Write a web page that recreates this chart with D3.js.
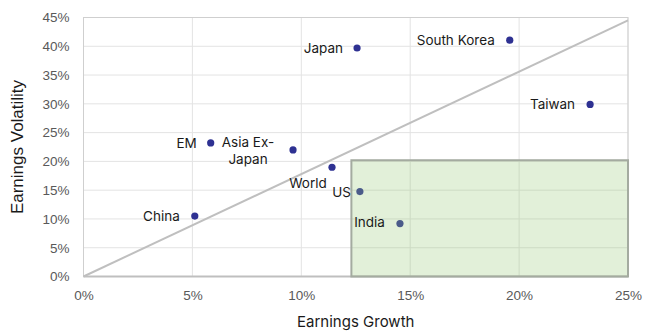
<!DOCTYPE html>
<html>
<head>
<meta charset="utf-8">
<script src="https://cdn.jsdelivr.net/npm/d3@7/dist/d3.min.js"></script>
<style>
  html, body { margin: 0; padding: 0; background: #fff; }
  svg { display: block; }
</style>
</head>
<body>
<svg id="chart" width="647" height="336"></svg>
<script>
// Markets plotted by earnings growth (x) and earnings volatility (y)
const markets = ["Japan", "South Korea", "Taiwan", "EM", "Asia Ex-Japan", "World", "US", "India", "China"];
const growth = [0.1256, 0.1957, 0.2326, 0.0584, 0.0962, 0.1141, 0.1269, 0.1453, 0.0511];
const volatility = [0.397, 0.4106, 0.299, 0.232, 0.220, 0.1898, 0.1475, 0.092, 0.105];

// Tick values for both axes
const xTicks = [0, 0.05, 0.10, 0.15, 0.20, 0.25];
const yTicks = [0, 0.05, 0.10, 0.15, 0.20, 0.25, 0.30, 0.35, 0.40, 0.45];

// Reference diagonal and highlighted zone (growth / volatility corners)
const diagonal = [[0, 0], [0.25, 0.445]];
const zoneX = [0.123, 0.25];
const zoneY = [0, 0.202];

// Label placement around each marker
const labelPlacement = {
  "Japan":         { dx: -14, dy: 0,   anchor: "end" },
  "South Korea":   { dx: -15, dy: 0,   anchor: "end" },
  "Taiwan":        { dx: -15, dy: 0,   anchor: "end" },
  "EM":            { dx: -14, dy: 0,   anchor: "end" },
  "Asia Ex-Japan": { dx: -45, dy: -8,  anchor: "middle", lines: ["Asia Ex-", "Japan"], lineGap: 17 },
  "World":         { dx: -24, dy: 16,  anchor: "middle" },
  "US":            { dx: -9,  dy: 1,   anchor: "end" },
  "India":         { dx: -15, dy: -1,  anchor: "end" },
  "China":         { dx: -15, dy: 0,   anchor: "end" }
};

const svg = d3.select("#chart");
const plotLeft = 83.5, plotRight = 628, plotTop = 17.5, plotBottom = 276.5;

const x = d3.scaleLinear().domain([0, 0.25]).range([plotLeft, plotRight]);
const y = d3.scaleLinear().domain([0, 0.45]).range([plotBottom, plotTop]);

const pct = d3.format(".0%");
const tickFont = "'Liberation Sans', Arial, sans-serif";
const labelFont = "Inter, 'Open Sans', sans-serif";

// Gridlines
const grid = svg.append("g");
grid.selectAll("line.h").data(yTicks).join("line")
  .attr("class", "h")
  .attr("x1", plotLeft).attr("x2", plotRight)
  .attr("y1", d => y(d)).attr("y2", d => y(d))
  .attr("stroke", "#e3e3e3").attr("stroke-width", 1);
grid.selectAll("line.v").data(xTicks).join("line")
  .attr("class", "v")
  .attr("y1", plotTop).attr("y2", plotBottom)
  .attr("x1", d => x(d)).attr("x2", d => x(d))
  .attr("stroke", "#e3e3e3").attr("stroke-width", 1);

// Plot frame
svg.append("rect")
  .attr("x", plotLeft).attr("y", plotTop)
  .attr("width", plotRight - plotLeft).attr("height", plotBottom - plotTop)
  .attr("fill", "none").attr("stroke", "#cfcfcf").attr("stroke-width", 1);

// Axes (labels only; lines drawn separately)
const yAxis = d3.axisLeft(y).tickValues(yTicks).tickFormat(pct).tickSize(0).tickPadding(14);
const xAxis = d3.axisBottom(x).tickValues(xTicks).tickFormat(pct).tickSize(0).tickPadding(14);

const gy = svg.append("g").attr("transform", `translate(${plotLeft},0)`).call(yAxis);
const gx = svg.append("g").attr("transform", `translate(0,${plotBottom})`).call(xAxis);
[gx, gy].forEach(g => {
  g.select(".domain").remove();
  g.selectAll("text")
    .attr("fill", "#595959")
    .style("font-family", tickFont)
    .style("font-size", "13.5px");
});

// Diagonal reference line
svg.append("line")
  .attr("x1", x(diagonal[0][0])).attr("y1", y(diagonal[0][1]))
  .attr("x2", x(diagonal[1][0])).attr("y2", y(diagonal[1][1]))
  .attr("stroke", "#bfbfbf").attr("stroke-width", 2);

// Bottom axis line
svg.append("line")
  .attr("x1", plotLeft).attr("x2", plotRight)
  .attr("y1", plotBottom).attr("y2", plotBottom)
  .attr("stroke", "#bfbfbf").attr("stroke-width", 2);

// Markers
svg.append("g").selectAll("circle").data(markets).join("circle")
  .attr("cx", (d, i) => x(growth[i]))
  .attr("cy", (d, i) => y(volatility[i]))
  .attr("r", 3.6)
  .attr("fill", "#2e3192");

// Highlighted zone, translucent over the markers
svg.append("rect")
  .attr("x", x(zoneX[0])).attr("y", y(zoneY[1]))
  .attr("width", x(zoneX[1]) - x(zoneX[0]))
  .attr("height", y(zoneY[0]) - y(zoneY[1]))
  .attr("fill", "rgb(150,200,120)").attr("fill-opacity", 0.28)
  .attr("stroke", "#a4aba0").attr("stroke-width", 2);

// Marker labels
const labels = svg.append("g")
  .style("font-family", labelFont)
  .style("font-size", "13.5px")
  .attr("fill", "#1a1a1a");
markets.forEach((name, i) => {
  const p = labelPlacement[name];
  const cx = x(growth[i]) + p.dx, cy = y(volatility[i]) + p.dy;
  const t = labels.append("text")
    .attr("x", cx).attr("y", cy)
    .attr("text-anchor", p.anchor)
    .attr("dy", "0.36em");
  if (p.lines) {
    p.lines.forEach((ln, k) => {
      t.append("tspan").attr("x", cx).attr("y", cy + k * p.lineGap).attr("dy", "0.36em").text(ln);
    });
  } else {
    t.text(name);
  }
});

// Axis titles
svg.append("text")
  .attr("x", (plotLeft + plotRight) / 2).attr("y", 322)
  .attr("text-anchor", "middle").attr("dy", "0.36em")
  .style("font-family", labelFont).style("font-size", "15px")
  .attr("fill", "#1a1a1a")
  .text("Earnings Growth");

svg.append("text")
  .attr("transform", `translate(17,${(plotTop + plotBottom) / 2}) rotate(-90)`)
  .attr("text-anchor", "middle").attr("dy", "0.36em")
  .style("font-family", tickFont).style("font-size", "17px")
  .attr("fill", "#1a1a1a")
  .text("Earnings Volatility");
</script>
</body>
</html>
